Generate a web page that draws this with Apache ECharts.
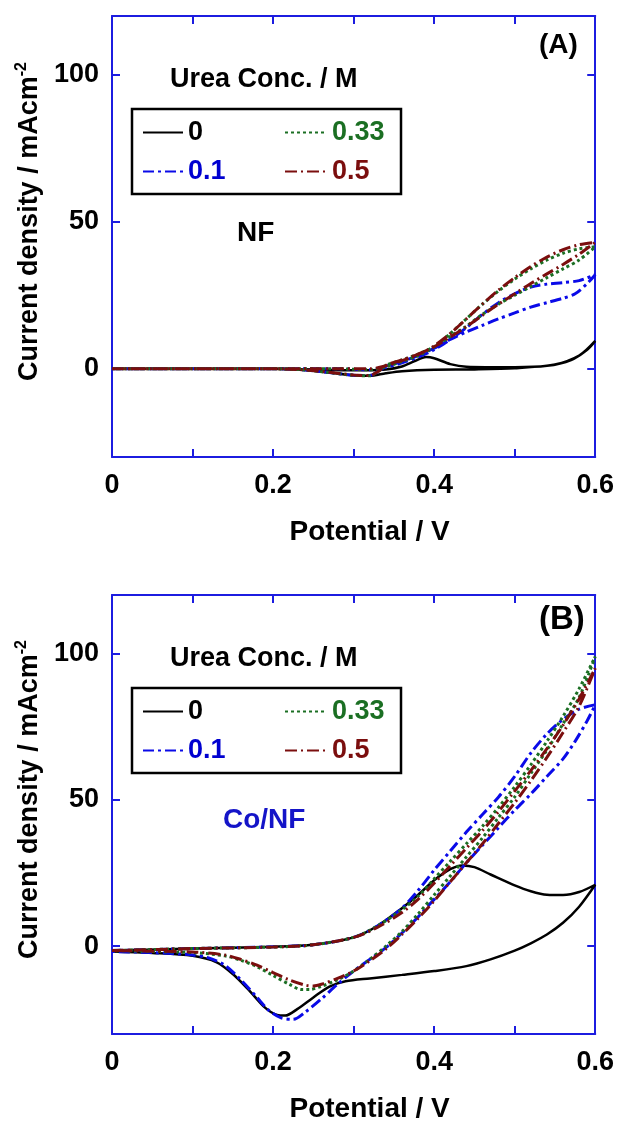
<!DOCTYPE html>
<html>
<head>
<meta charset="utf-8">
<script src="https://cdn.jsdelivr.net/npm/echarts@6/dist/echarts.min.js"></script>
<style>
  html, body { margin: 0; padding: 0; background: #fff; }
  #chart { width: 617px; height: 1124px; }
</style>
</head>
<body>
<div id="chart"></div>
<script>
// urea concentration (M), legend labels
const concLabels = ['0', '0.1', '0.33', '0.5'];
const yTicks = [0, 50, 100];

// (A) NF electrode, [potential V, current density mA cm-2], forward then reverse scan
const nf0 = [[0,0],[0.2,0],[0.26,-0.3],[0.3,-0.5],[0.34,-0.2],[0.36,0.8],[0.375,2.5],[0.39,4],[0.40,3.6],[0.42,1.6],[0.44,0.7],[0.5,0.5],[0.54,1],[0.57,3],[0.59,6.5],[0.6,9.5],
  [0.58,4.5],[0.55,1.5],[0.5,0.2],[0.45,-0.2],[0.4,-0.3],[0.36,-0.8],[0.34,-1.5],[0.32,-2.4],[0.30,-2.2],[0.27,-1.3],[0.24,-0.4],[0.2,0],[0,0]];
const nf01 = [[0,0],[0.2,0],[0.28,0],[0.32,-0.3],[0.34,0.5],[0.36,2],[0.38,4],[0.40,6.5],[0.42,10],[0.44,14],[0.46,18.5],[0.48,22.5],[0.50,25.5],[0.52,27.8],[0.54,28.8],[0.56,29.3],[0.58,30],[0.6,32],
  [0.59,29],[0.575,25.5],[0.56,24],[0.54,22.5],[0.52,21],[0.50,19],[0.48,17],[0.46,14.8],[0.44,12.5],[0.42,10],[0.40,7],[0.38,4.5],[0.36,2.5],[0.34,0.8],[0.33,-1],[0.32,-2.3],[0.30,-2.2],[0.27,-1.3],[0.24,-0.4],[0.2,0],[0,0]];
const nf033 = [[0,0],[0.2,0],[0.28,0],[0.32,-0.3],[0.34,0.7],[0.36,2.5],[0.38,4.5],[0.40,7.5],[0.42,12],[0.44,17],[0.46,22],[0.48,26.5],[0.50,30.5],[0.52,34],[0.54,37],[0.56,39.3],[0.58,40.8],[0.6,41.5],
  [0.58,37],[0.56,34],[0.54,31],[0.52,28],[0.50,25],[0.48,22],[0.46,18.5],[0.44,14.5],[0.42,11],[0.40,7.5],[0.38,5],[0.36,3],[0.34,1.2],[0.33,-1],[0.32,-2.4],[0.30,-2.2],[0.27,-1.3],[0.24,-0.4],[0.2,0],[0,0]];
const nf05 = [[0,0],[0.2,0],[0.28,0],[0.32,0],[0.34,1],[0.36,2.8],[0.38,4.8],[0.40,7.8],[0.42,12],[0.44,17],[0.46,22],[0.48,26.8],[0.50,31],[0.52,34.8],[0.54,38],[0.56,40.5],[0.58,42.2],[0.6,43],
  [0.58,39],[0.56,35.5],[0.54,32.3],[0.52,29],[0.50,25.5],[0.48,22],[0.46,18.2],[0.44,14.3],[0.42,10.8],[0.40,7.5],[0.38,5],[0.36,3],[0.34,1.2],[0.33,-1],[0.32,-2.3],[0.30,-2.1],[0.27,-1.2],[0.24,-0.4],[0.2,0],[0,0]];

// (B) Co/NF electrode
const conf0 = [[0,-1.5],[0.1,-0.8],[0.2,-0.2],[0.25,0.5],[0.3,3],[0.33,7],[0.36,13],[0.38,17.5],[0.40,22.5],[0.42,26.3],[0.435,27.6],[0.45,27],[0.47,24.5],[0.5,20.8],[0.52,18.8],[0.54,17.6],[0.56,17.5],[0.58,18.5],[0.6,21],
  [0.58,13.5],[0.56,8],[0.54,4],[0.52,1],[0.5,-1.5],[0.47,-4.5],[0.44,-6.8],[0.4,-8.5],[0.36,-9.8],[0.32,-11],[0.29,-12],[0.27,-13.8],[0.25,-17.5],[0.23,-21.5],[0.215,-23.7],[0.205,-23.5],[0.19,-21],[0.17,-15],[0.15,-9.5],[0.13,-5.5],[0.1,-3.3],[0.05,-2.3],[0,-1.8]];
const conf01 = [[0,-1.5],[0.1,-0.8],[0.2,-0.2],[0.25,0.5],[0.3,3],[0.33,7],[0.36,13],[0.38,19],[0.40,26],[0.42,32.5],[0.44,39],[0.46,45],[0.48,51],[0.50,58],[0.52,66],[0.54,72.5],[0.56,77.5],[0.58,81],[0.6,82.5],
  [0.59,77],[0.575,70],[0.56,64],[0.54,58],[0.52,52],[0.5,46.5],[0.48,40.5],[0.46,34.5],[0.44,28.5],[0.42,22],[0.40,16],[0.38,10],[0.36,4.5],[0.34,-0.5],[0.32,-4.5],[0.30,-8.5],[0.28,-13],[0.26,-18],[0.24,-22.5],[0.225,-25],[0.21,-24.5],[0.195,-22],[0.18,-17.5],[0.16,-11.5],[0.14,-6.5],[0.12,-4],[0.1,-3],[0.05,-2.2],[0,-1.8]];
const conf033 = [[0,-1.5],[0.1,-0.8],[0.2,-0.3],[0.25,0.5],[0.3,3],[0.33,7],[0.36,12.5],[0.38,17],[0.40,23],[0.42,29],[0.44,35],[0.46,41],[0.48,47.5],[0.50,54.5],[0.52,62],[0.54,70],[0.56,78.5],[0.58,88],[0.6,99],
  [0.58,85],[0.56,76],[0.54,67],[0.52,59],[0.50,51],[0.48,44],[0.46,37],[0.44,30.5],[0.42,24],[0.40,17.5],[0.38,11],[0.36,5],[0.34,0],[0.32,-4.5],[0.30,-8.5],[0.28,-11.5],[0.26,-13.7],[0.245,-14.8],[0.235,-14.8],[0.22,-13],[0.2,-10],[0.18,-7],[0.16,-4.8],[0.14,-3.3],[0.1,-2.2],[0,-1.5]];
const conf05 = [[0,-1.5],[0.1,-0.8],[0.2,-0.3],[0.25,0.5],[0.3,3],[0.33,6.5],[0.36,11.5],[0.38,16],[0.40,21.5],[0.42,27.5],[0.44,33.5],[0.46,39.5],[0.48,46],[0.50,53],[0.52,60],[0.54,67.5],[0.56,75.5],[0.58,84.5],[0.6,95],
  [0.58,82],[0.56,73],[0.54,64.5],[0.52,56.5],[0.50,49],[0.48,42],[0.46,35],[0.44,28.5],[0.42,22],[0.40,15.5],[0.38,9.5],[0.36,4],[0.34,-1],[0.32,-5],[0.30,-8.5],[0.28,-11],[0.26,-13],[0.25,-13.6],[0.24,-13.3],[0.22,-11.5],[0.2,-9],[0.18,-6.5],[0.16,-4.5],[0.14,-3],[0.1,-2],[0,-1.5]];

const BLUE = '#1c1ce0';
const FONT = 'Liberation Sans, Arial, sans-serif';
const styles = [
  { color: '#000000', type: 'solid', width: 2.5 },
  { color: '#0a0ae8', type: [11, 4, 3, 4], width: 3 },
  { color: '#1b6f23', type: [3, 3], width: 3 },
  { color: '#7b0e0e', type: [12, 4, 2, 4], width: 3 }
];
const textColors = ['#000000', '#0000d0', '#1b6f23', '#7b0e0e'];

const chart = echarts.init(document.getElementById('chart'));

function xAxisCfg(gridIndex, pos, main) {
  return {
    type: 'value', gridIndex: gridIndex, position: pos, min: 0, max: 0.6, interval: 0.1,
    axisLine: { show: true, onZero: false, lineStyle: { color: BLUE, width: 2 } },
    axisTick: { show: true, inside: true, length: 8, lineStyle: { color: BLUE, width: 2 } },
    axisLabel: {
      show: main, margin: 15, color: '#000', fontSize: 27, fontWeight: 'bold', fontFamily: FONT,
      formatter: function (v) {
        const k = Math.round(v * 10);
        return k % 2 === 0 ? String(k / 10) : '';
      }
    },
    splitLine: { show: false },
    name: main ? 'Potential / V' : '',
    nameLocation: 'middle', nameGap: 61,
    nameTextStyle: { color: '#000', fontSize: 28, fontWeight: 'bold', fontFamily: FONT, padding: [0, 0, 0, 32] }
  };
}

function yAxisCfg(gridIndex, pos, main) {
  return {
    type: 'value', gridIndex: gridIndex, position: pos, min: -30, max: 120,
    axisLine: { show: true, onZero: false, lineStyle: { color: BLUE, width: 2 } },
    axisTick: { show: true, inside: true, length: 8, customValues: yTicks, lineStyle: { color: BLUE, width: 2 } },
    axisLabel: { show: main, customValues: yTicks, margin: 13, color: '#000', fontSize: 27, fontWeight: 'bold', fontFamily: FONT },
    splitLine: { show: false },
    name: main ? '{a|Current density / mAcm}{b|-2}' : '',
    nameLocation: 'middle', nameGap: 64,
    nameTextStyle: {
      color: '#000', fontFamily: FONT, padding: [0, 0, 0, 30],
      rich: {
        a: { fontSize: 27, fontWeight: 'bold', fontFamily: FONT, color: '#000', lineHeight: 32 },
        b: { fontSize: 16, fontWeight: 'bold', fontFamily: FONT, color: '#000', verticalAlign: 'top', lineHeight: 32 }
      }
    }
  };
}

const panels = [
  { data: [nf0, nf01, nf033, nf05], top: 16, tag: '(A)', tagSize: 28, name: 'NF', nameColor: '#000', nameX: 237, nameY: 233 },
  { data: [conf0, conf01, conf033, conf05], top: 595, tag: '(B)', tagSize: 33, name: 'Co/NF', nameColor: '#1414c8', nameX: 223, nameY: 820 }
];

const grids = [], xAxes = [], yAxes = [], series = [], legends = [], graphics = [];
const legendPos = [[142, 0, 40], [142, 1, 40], [284, 0, 42], [284, 1, 42]];

panels.forEach(function (p, i) {
  const off = p.top - 16;
  grids.push({ left: 112, top: p.top, width: 484, height: 441 });
  xAxes.push(xAxisCfg(i, 'bottom', true), xAxisCfg(i, 'top', false));
  yAxes.push(yAxisCfg(i, 'left', true), yAxisCfg(i, 'right', false));
  p.data.forEach(function (d, k) {
    series.push({
      name: concLabels[k], type: 'line', xAxisIndex: i * 2, yAxisIndex: i * 2,
      data: d, symbol: 'none', showSymbol: false, smooth: 0.3,
      lineStyle: styles[k], itemStyle: { color: styles[k].color }
    });
    const lp = legendPos[k];
    legends.push({
      data: [concLabels[k]], left: lp[0], top: 119 + off + lp[1] * 39, padding: 0,
      itemWidth: lp[2], itemHeight: 14, selectedMode: false,
      itemStyle: { opacity: 0 },
      textStyle: { color: textColors[k], fontSize: 27, fontWeight: 'bold', fontFamily: FONT }
    });
  });
  graphics.push(
    { type: 'rect', shape: { x: 132, y: 109 + off, width: 269, height: 85 }, style: { fill: 'none', stroke: '#000', lineWidth: 2.5 } },
    { type: 'text', style: { x: 170, y: 80 + off, text: 'Urea Conc. / M', font: 'bold 27px ' + FONT, fill: '#000', verticalAlign: 'middle', textVerticalAlign: 'middle' } },
    { type: 'text', style: { x: 539, y: (i === 0 ? 45 : 620), text: p.tag, font: 'bold ' + p.tagSize + 'px ' + FONT, fill: '#000', verticalAlign: 'middle', textVerticalAlign: 'middle' } },
    { type: 'text', style: { x: p.nameX, y: p.nameY, text: p.name, font: 'bold 28px ' + FONT, fill: p.nameColor, verticalAlign: 'middle', textVerticalAlign: 'middle' } }
  );
});

chart.setOption({
  animation: false,
  backgroundColor: '#fff',
  grid: grids,
  xAxis: xAxes,
  yAxis: yAxes,
  legend: legends,
  graphic: graphics,
  series: series
});
</script>
</body>
</html>
